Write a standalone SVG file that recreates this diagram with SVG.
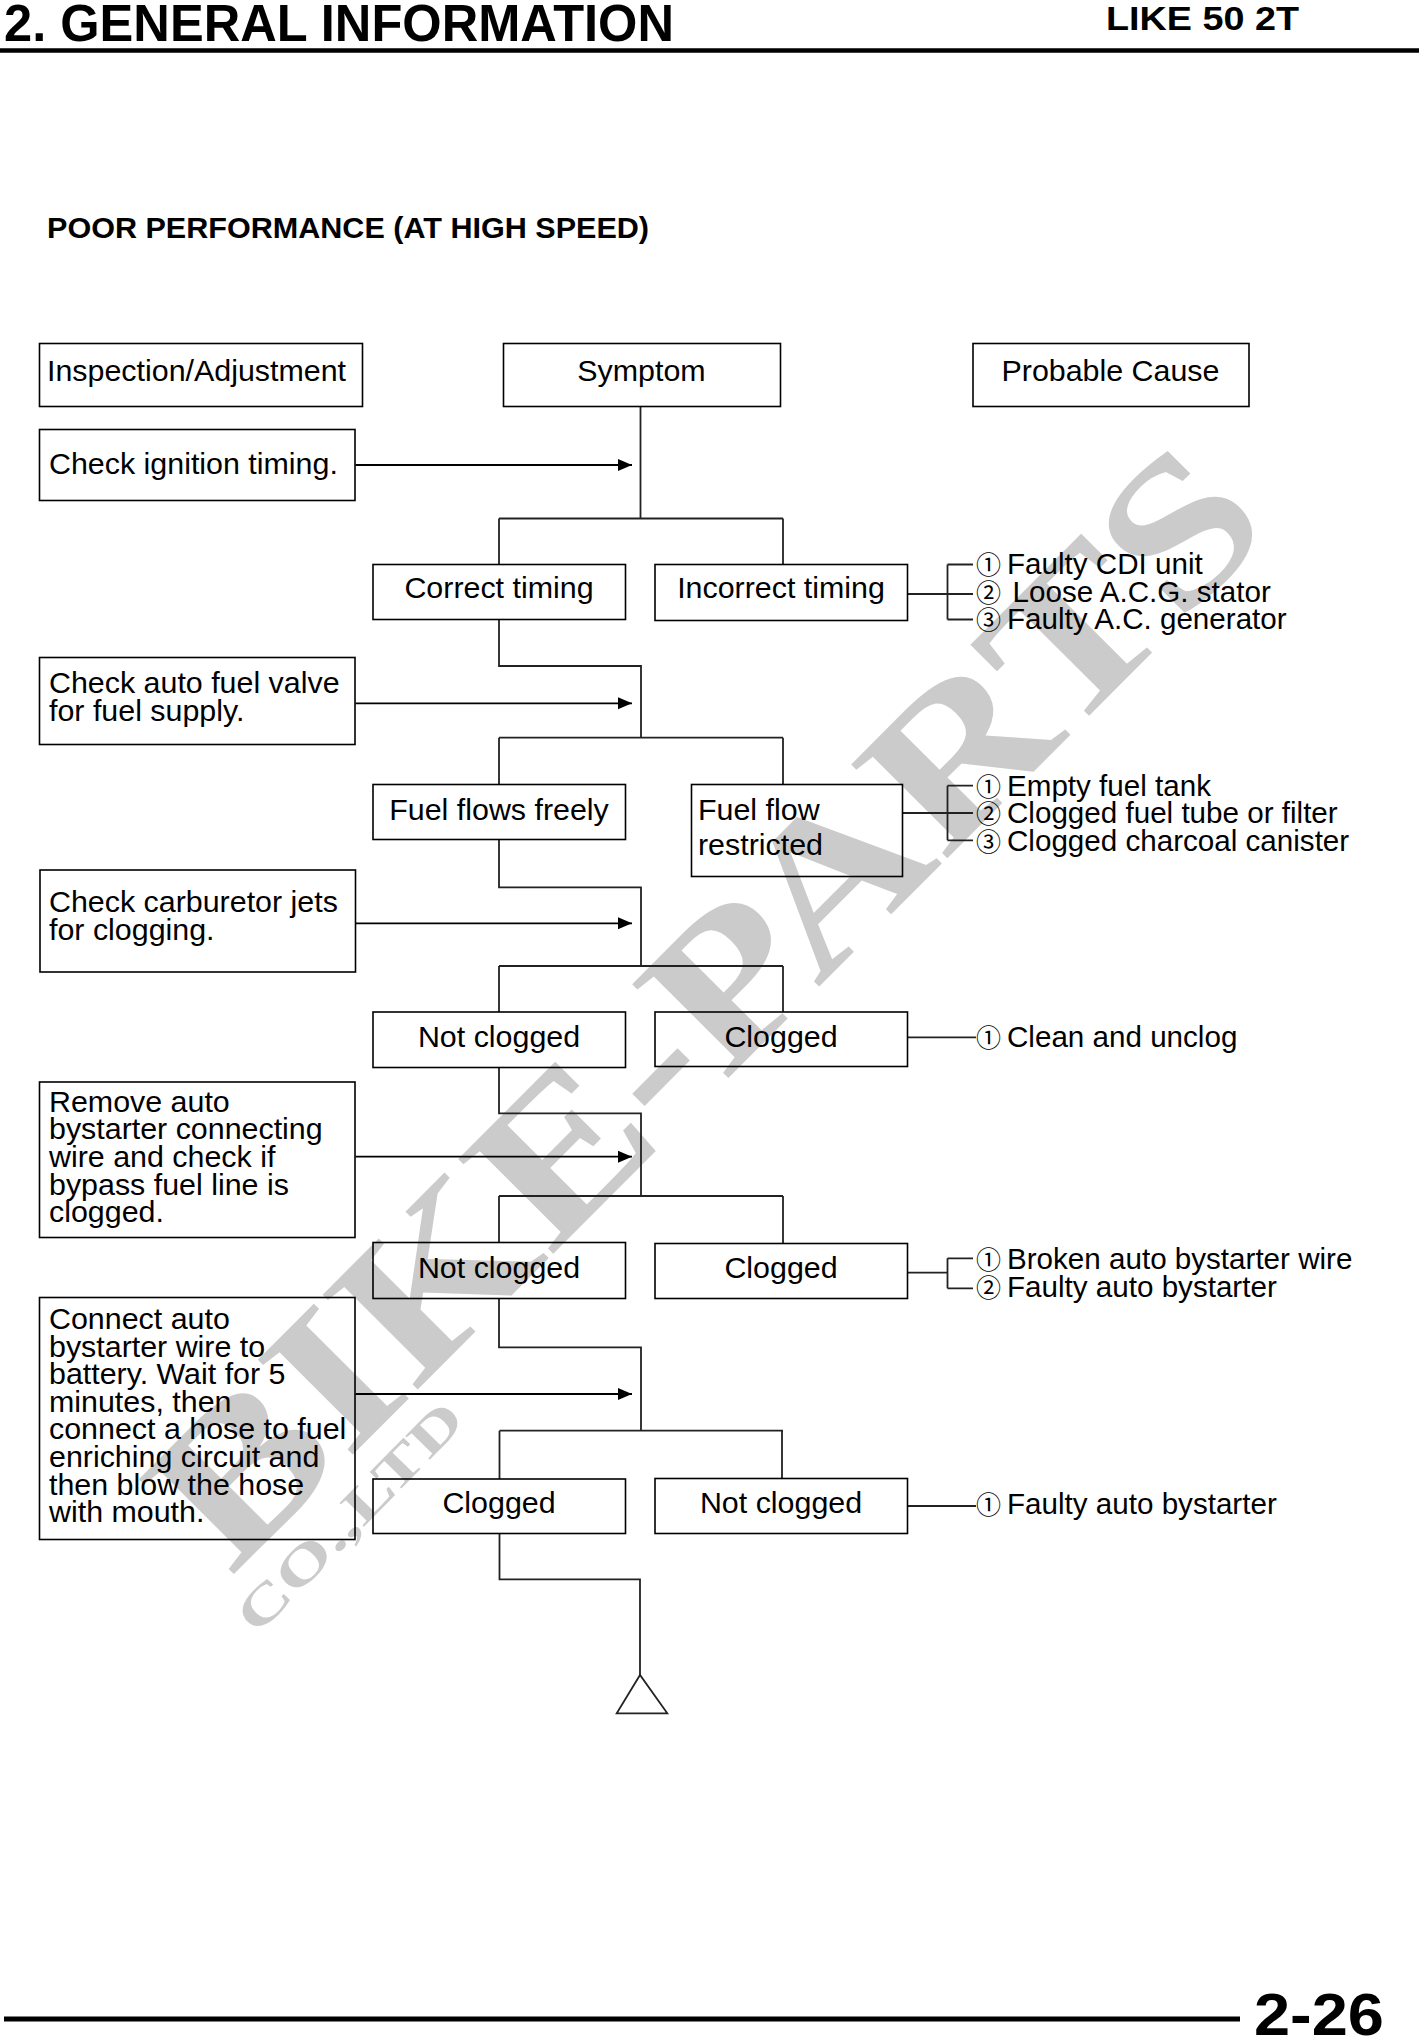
<svg xmlns="http://www.w3.org/2000/svg" width="1419" height="2037" viewBox="0 0 1419 2037">
<style>
.box{fill:none;stroke:#000;stroke-width:1.6}
.t{font-family:"Liberation Sans",Arial,sans-serif;font-size:30.4px;fill:#000}
.c{text-anchor:middle}
.cause{font-size:29.6px}
.n{font-family:"Noto Sans CJK JP","DejaVu Sans",sans-serif;font-size:25px}
.h{font-family:"Liberation Sans",Arial,sans-serif;font-weight:bold;fill:#000}
.ln{fill:none;stroke:#222;stroke-width:1.8}
.arr{fill:none;stroke:#000;stroke-width:1.8;marker-end:url(#ah)}
.wm{font-family:"Liberation Serif","Times New Roman",serif;font-weight:bold;fill:#cbcbcb}
</style>
<defs>
<marker id="ah" markerUnits="userSpaceOnUse" markerWidth="15" markerHeight="13" refX="14" refY="6.5" orient="auto">
<path d="M0,0.5 L14,6.5 L0,12.5 z" fill="#000"/>
</marker>
</defs>
<rect width="1419" height="2037" fill="#fff"/>

<g id="watermark">
<text class="wm" font-size="205" textLength="1480" lengthAdjust="spacingAndGlyphs" transform="translate(231,1577) rotate(-45.1)">BIKE-PARTS</text>
<text class="wm" font-size="52" textLength="300" lengthAdjust="spacingAndGlyphs" transform="translate(257,1636) rotate(-45.6)">CO.,LTD</text>
</g>

<g id="header">
<text class="h" x="4" y="41" font-size="52" textLength="670" lengthAdjust="spacingAndGlyphs">2. GENERAL INFORMATION</text>
<text class="h" x="1106" y="30" font-size="33" textLength="193" lengthAdjust="spacingAndGlyphs">LIKE 50 2T</text>
<line x1="0" y1="50.5" x2="1419" y2="50.5" stroke="#000" stroke-width="4.5"/>
<text class="h" x="47" y="238" font-size="29" textLength="602" lengthAdjust="spacingAndGlyphs">POOR PERFORMANCE (AT HIGH SPEED)</text>
</g>

<g id="footer">
<line x1="4" y1="2019" x2="1240" y2="2019" stroke="#000" stroke-width="5"/>
<text class="h" x="1254" y="2035" font-size="60" textLength="130" lengthAdjust="spacingAndGlyphs">2-26</text>
</g>

<g id="connectors">
<path class="ln" d="M640.5,407 V518.5 M499,518.5 H783 M499,518.5 V564.5 M783,518.5 V564.5"/>
<path class="ln" d="M499,619.5 V666 H641 V737.7 M499,737.7 H783 M499,737.7 V784.5 M783,737.7 V784.5"/>
<path class="ln" d="M499,839.5 V887.3 H641 V966 M499,966 H783 M499,966 V1012 M783,966 V1012"/>
<path class="ln" d="M499,1067.5 V1113.3 H641 V1196 M499,1196 H783 M499,1196 V1243 M783,1196 V1243.5"/>
<path class="ln" d="M499,1298.5 V1347.3 H641 V1430.7 M499.5,1430.7 H783 M499.5,1430.7 V1479 M782,1430.7 V1478.5"/>
<path class="ln" d="M499.5,1533.5 V1579.3 H640 V1675"/>
<path class="ln" d="M640,1675 L616.7,1713.3 H667.3 Z"/>
<line class="arr" x1="355.5" y1="465" x2="632" y2="465"/>
<line class="arr" x1="355.5" y1="703.3" x2="632" y2="703.3"/>
<line class="arr" x1="355.5" y1="923.3" x2="632" y2="923.3"/>
<line class="arr" x1="355.5" y1="1156.7" x2="632" y2="1156.7"/>
<line class="arr" x1="355.5" y1="1394" x2="632" y2="1394"/>
<path class="ln" d="M907.5,594 H973 M947.5,564.5 V619.5 M947.5,564.5 H973 M947.5,619.5 H973"/>
<path class="ln" d="M902.5,813 H973 M947.5,785.7 V840.3 M947.5,785.7 H973 M947.5,840.3 H973"/>
<path class="ln" d="M907.5,1037.3 H976"/>
<path class="ln" d="M907.5,1272.7 H947.5 M947.5,1258.3 V1288.3 M947.5,1258.3 H973 M947.5,1288.3 H973"/>
<path class="ln" d="M907.5,1506 H976"/>
</g>

<g id="n-inspection">
<rect class="box" x="39.5" y="343.5" width="323" height="63"/>
<text class="t" x="47" y="381">Inspection/Adjustment</text>
</g>
<g id="n-symptom">
<rect class="box" x="503.5" y="343.5" width="277" height="63"/>
<text class="t c" x="641.5" y="381" font-size="33">Symptom</text>
</g>
<g id="n-cause">
<rect class="box" x="973" y="343.5" width="276" height="63"/>
<text class="t c" x="1110.5" y="381">Probable Cause</text>
</g>

<g id="n-check-ignition">
<rect class="box" x="39.5" y="429.5" width="315.5" height="71"/>
<text class="t" x="49" y="474">Check ignition timing.</text>
</g>
<g id="n-correct-timing">
<rect class="box" x="373" y="564.5" width="252.5" height="55"/>
<text class="t c" x="499" y="598">Correct timing</text>
</g>
<g id="n-incorrect-timing">
<rect class="box" x="655" y="564.5" width="252.5" height="56"/>
<text class="t c" x="781" y="598">Incorrect timing</text>
</g>
<g id="c-timing">
<text class="t cause" x="976" y="574"><tspan class="n">①</tspan><tspan x="1007">Faulty CDI unit</tspan></text>
<text class="t cause" x="976" y="601.7"><tspan class="n">②</tspan><tspan x="1012.5">Loose A.C.G. stator</tspan></text>
<text class="t cause" x="976" y="629.3"><tspan class="n">③</tspan><tspan x="1007">Faulty A.C. generator</tspan></text>
</g>

<g id="n-check-fuel">
<rect class="box" x="39.5" y="657.5" width="315.5" height="87"/>
<text class="t" x="49" y="693">Check auto fuel valve</text>
<text class="t" x="49" y="721">for fuel supply.</text>
</g>
<g id="n-fuel-free">
<rect class="box" x="373" y="784.5" width="252.5" height="55"/>
<text class="t c" x="499" y="820">Fuel flows freely</text>
</g>
<g id="n-fuel-restricted">
<rect class="box" x="691.5" y="784.5" width="211" height="92"/>
<text class="t" x="698" y="820">Fuel flow</text>
<text class="t" x="698" y="855">restricted</text>
</g>
<g id="c-fuel">
<text class="t cause" x="976" y="795.7"><tspan class="n">①</tspan><tspan x="1007">Empty fuel tank</tspan></text>
<text class="t cause" x="976" y="823.3"><tspan class="n">②</tspan><tspan x="1007">Clogged fuel tube or filter</tspan></text>
<text class="t cause" x="976" y="851"><tspan class="n">③</tspan><tspan x="1007">Clogged charcoal canister</tspan></text>
</g>

<g id="n-check-carb">
<rect class="box" x="40" y="870" width="315.5" height="102"/>
<text class="t" x="49" y="911.5">Check carburetor jets</text>
<text class="t" x="49" y="940">for clogging.</text>
</g>
<g id="n-not-clogged-1">
<rect class="box" x="373" y="1012" width="252.5" height="55.5"/>
<text class="t c" x="499" y="1046.5">Not clogged</text>
</g>
<g id="n-clogged-1">
<rect class="box" x="655" y="1012" width="252.5" height="54.5"/>
<text class="t c" x="781" y="1046.5">Clogged</text>
</g>
<g id="c-carb">
<text class="t cause" x="976" y="1046.7"><tspan class="n">①</tspan><tspan x="1007">Clean and unclog</tspan></text>
</g>

<g id="n-remove-bystarter">
<rect class="box" x="39.5" y="1082" width="315.5" height="155.5"/>
<text class="t" x="49" y="1111.7">Remove auto</text>
<text class="t" x="49" y="1139.3">bystarter connecting</text>
<text class="t" x="49" y="1167">wire and check if</text>
<text class="t" x="49" y="1194.7">bypass fuel line is</text>
<text class="t" x="49" y="1222.3">clogged.</text>
</g>
<g id="n-not-clogged-2">
<rect class="box" x="373" y="1242.5" width="252.5" height="56"/>
<text class="t c" x="499" y="1277.5">Not clogged</text>
</g>
<g id="n-clogged-2">
<rect class="box" x="655" y="1243.5" width="252.5" height="55"/>
<text class="t c" x="781" y="1277.5">Clogged</text>
</g>
<g id="c-bypass">
<text class="t cause" x="976" y="1268.7"><tspan class="n">①</tspan><tspan x="1007">Broken auto bystarter wire</tspan></text>
<text class="t cause" x="976" y="1296.7"><tspan class="n">②</tspan><tspan x="1007">Faulty auto bystarter</tspan></text>
</g>

<g id="n-connect-bystarter">
<rect class="box" x="39.5" y="1297.5" width="315.5" height="242"/>
<text class="t" x="49" y="1329.3">Connect auto</text>
<text class="t" x="49" y="1356.7">bystarter wire to</text>
<text class="t" x="49" y="1384.3">battery. Wait for 5</text>
<text class="t" x="49" y="1411.7">minutes, then</text>
<text class="t" x="49" y="1439.3">connect a hose to fuel</text>
<text class="t" x="49" y="1466.7">enriching circuit and</text>
<text class="t" x="49" y="1495">then blow the hose</text>
<text class="t" x="49" y="1522.3">with mouth.</text>
</g>
<g id="n-clogged-3">
<rect class="box" x="373" y="1479" width="252.5" height="54.5"/>
<text class="t c" x="499" y="1513">Clogged</text>
</g>
<g id="n-not-clogged-3">
<rect class="box" x="655" y="1478.5" width="252.5" height="55"/>
<text class="t c" x="781" y="1513">Not clogged</text>
</g>
<g id="c-enrich">
<text class="t cause" x="976" y="1514"><tspan class="n">①</tspan><tspan x="1007">Faulty auto bystarter</tspan></text>
</g>
</svg>
